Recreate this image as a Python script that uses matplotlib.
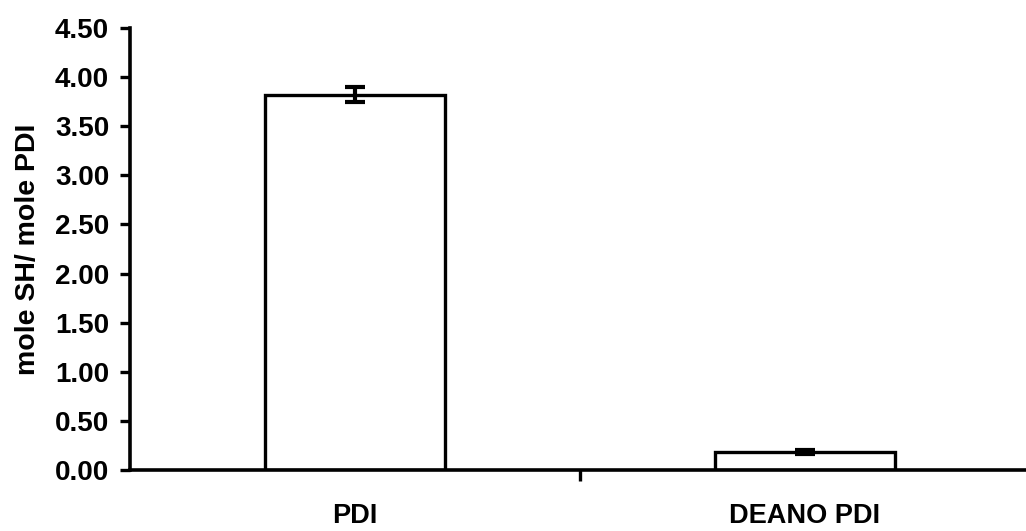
import matplotlib
matplotlib.use("Agg")
import matplotlib.pyplot as plt
import numpy as np

categories = ["PDI", "DEANO PDI"]
values = [3.82, 0.18]
errors = [0.075, 0.02]
yticks = [0.0, 0.5, 1.0, 1.5, 2.0, 2.5, 3.0, 3.5, 4.0, 4.5]
ylabel = "mole SH/ mole PDI"

plt.rcParams['font.family'] = ['Liberation Sans', 'DejaVu Sans']

W, H = 1026, 531
fig = plt.figure(figsize=(W / 100, H / 100), dpi=100)
left = 130 / W
right = 1030 / W
bottom = (H - 470) / H
top = (H - 28) / H
ax = fig.add_axes([left, bottom, right - left, top - bottom])

x = np.arange(len(categories))
ax.bar(x, values, width=0.4, color="white", edgecolor="black", linewidth=2.4, zorder=2)
ax.errorbar(x, values, yerr=errors, fmt="none", ecolor="black", elinewidth=3,
            capsize=7.5, capthick=3, zorder=3)

ax.set_xlim(-0.5, 1.5)
ax.set_ylim(0, 4.5)
ax.set_yticks(yticks)
ax.set_yticklabels([f"{v:.2f}" for v in yticks], fontsize=20, fontweight="bold")
ax.set_ylabel(ylabel, fontsize=20.5, fontweight="bold", labelpad=10)

ax.set_xticks([0.5])
ax.set_xticklabels([""])
ax.set_xticks(x, minor=True)
ax.set_xticklabels(categories, minor=True, fontsize=19.5, fontweight="bold")
ax.tick_params(axis="x", which="minor", length=0, pad=24)
ax.tick_params(axis="x", which="major", length=8, width=2.4, direction="out")
ax.tick_params(axis="y", length=7, width=2.4, direction="out", pad=8)

for s in ["top", "right"]:
    ax.spines[s].set_visible(False)
for s in ["left", "bottom"]:
    ax.spines[s].set_linewidth(2.6)
ax.spines["bottom"].set_clip_on(False)

fig.savefig("out.png", dpi=100, facecolor="white")
